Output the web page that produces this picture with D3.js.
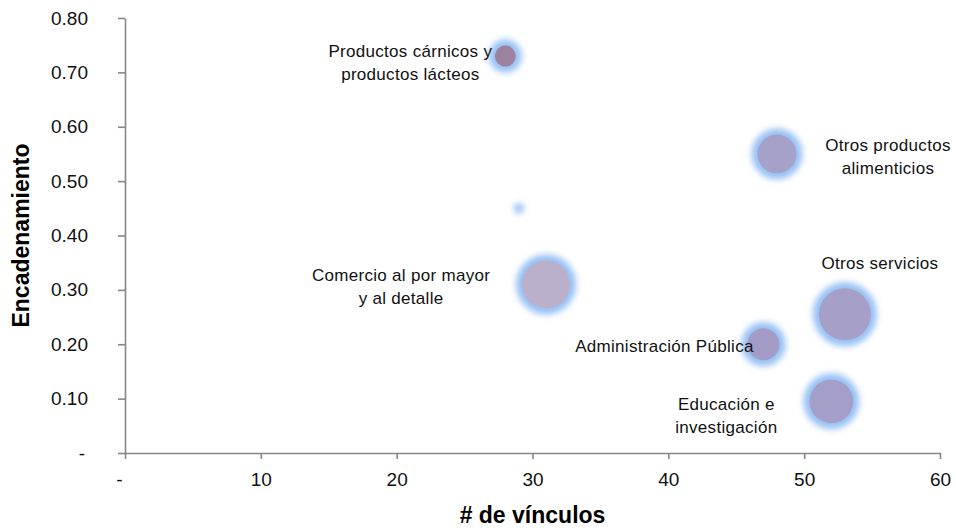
<!DOCTYPE html>
<html>
<head>
<meta charset="utf-8">
<script src="https://cdn.jsdelivr.net/npm/d3@7"></script>
<style>
  body { margin: 0; background: #fff; }
  svg { display: block; }
  text { font-family: "Liberation Sans", Arial, sans-serif; }
</style>
</head>
<body>
<svg id="chart" width="956" height="531"></svg>
<script>
// ---- data ----
const sectors = ["Productos cárnicos y productos lácteos", "Otros productos alimenticios", "(sin etiqueta)",
  "Comercio al por mayor y al detalle", "Administración Pública", "Otros servicios", "Educación e investigación"];
const vinculos = [28, 48, 29, 31, 47, 53, 52];
const encadenamiento = [0.73, 0.55, 0.45, 0.31, 0.20, 0.255, 0.095];
const bubbleSize = [1.1, 3.8, 0.1, 5.8, 2.6, 6.8, 4.8];
const labelLines = [
  ["Productos cárnicos y", "productos lácteos"],
  ["Otros productos", "alimenticios"],
  [],
  ["Comercio al por mayor", "y al detalle"],
  ["Administración Pública"],
  ["Otros servicios"],
  ["Educación e", "investigación"]
];
const xTicks = [0, 10, 20, 30, 40, 50, 60];
const yTicks = [0, 0.1, 0.2, 0.3, 0.4, 0.5, 0.6, 0.7, 0.8];

// ---- styles / layout (not data) ----
const fills = ["#9d829d", "#a6a1c8", "#a9c8f2", "#bbb0cb", "#a29cc6", "#a6a0c9", "#a39fc8"];
const labelOffsets = [[-95, 1], [111, -3], [0, 0], [-145, -3], [-99, 8], [35, -45], [-105, 9]];

const svg = d3.select("#chart");
const mL = 125, mR = 940, mT = 18, mB = 453;
const x = d3.scaleLinear().domain([0, 60]).range([mL, mR]);
const y = d3.scaleLinear().domain([0, 0.8]).range([mB, mT]);
const r = d3.scaleSqrt().domain([0, 6.8]).range([0, 26]);

const defs = svg.append("defs");
const f = defs.append("filter").attr("id", "glow")
  .attr("x", "-50%").attr("y", "-50%").attr("width", "200%").attr("height", "200%");
f.append("feGaussianBlur").attr("stdDeviation", 3);

const axisColor = "#868686";
const fmtY = d => d === 0 ? "-" : d3.format(".2f")(d);
const fmtX = d => d === 0 ? "-" : d3.format("d")(d);

const yAxis = svg.append("g").attr("transform", `translate(${mL},0)`)
  .call(d3.axisLeft(y).tickValues(yTicks).tickFormat(fmtY).tickSize(7).tickPadding(30).tickSizeOuter(0));
const xAxis = svg.append("g").attr("transform", `translate(0,${mB})`)
  .call(d3.axisBottom(x).tickValues(xTicks).tickFormat(fmtX).tickSize(6).tickPadding(14).tickSizeOuter(0));

[yAxis, xAxis].forEach(g => {
  g.select(".domain").attr("stroke", axisColor).attr("stroke-width", 1.6);
  g.selectAll(".tick line").attr("stroke", axisColor).attr("stroke-width", 1.6);
  g.selectAll(".tick text").attr("fill", "#111").style("font-size", "19px")
    .style("font-family", "'Liberation Sans', Arial, sans-serif");
});
xAxis.selectAll(".tick text").filter(d => d === 0).attr("dx", -6);
yAxis.selectAll(".tick text").filter(d => d === 0).attr("dx", -3);

// bubbles
const data = vinculos.map((v, i) => ({ x: v, y: encadenamiento[i], s: bubbleSize[i], i }));
const g = svg.append("g");
g.selectAll("circle.glow").data(data).join("circle")
  .attr("class", "glow")
  .attr("cx", d => x(d.x)).attr("cy", d => y(d.y))
  .attr("r", d => r(d.s) + (d.s < 0.5 ? 2 : 6))
  .attr("fill", "#8bbaf3")
  .attr("opacity", 0.9)
  .attr("filter", "url(#glow)");
g.selectAll("circle.core").data(data.filter(d => d.s >= 0.5)).join("circle")
  .attr("class", "core")
  .attr("cx", d => x(d.x)).attr("cy", d => y(d.y))
  .attr("r", d => r(d.s))
  .attr("fill", d => fills[d.i]);

// labels
const lg = svg.append("g");
data.forEach(d => {
  const lines = labelLines[d.i];
  if (!lines.length) return;
  const [dx, dy] = labelOffsets[d.i];
  const t = lg.append("text")
    .attr("x", x(d.x) + dx).attr("y", y(d.y) + dy)
    .attr("text-anchor", "middle")
    .style("font-size", "17px").style("letter-spacing", "0.3px")
    .attr("fill", "#111");
  lines.forEach((ln, k) => {
    t.append("tspan").attr("x", x(d.x) + dx).attr("dy", k === 0 ? 0 : 23).text(ln);
  });
});

// axis titles
svg.append("text")
  .attr("x", (mL + mR) / 2).attr("y", 523)
  .attr("text-anchor", "middle")
  .style("font-size", "23px").style("font-weight", "bold")
  .text("# de vínculos");
svg.append("text")
  .attr("transform", `translate(29,${(mT + mB) / 2}) rotate(-90)`)
  .attr("text-anchor", "middle")
  .style("font-size", "23px").style("font-weight", "bold")
  .text("Encadenamiento");
</script>
</body>
</html>
